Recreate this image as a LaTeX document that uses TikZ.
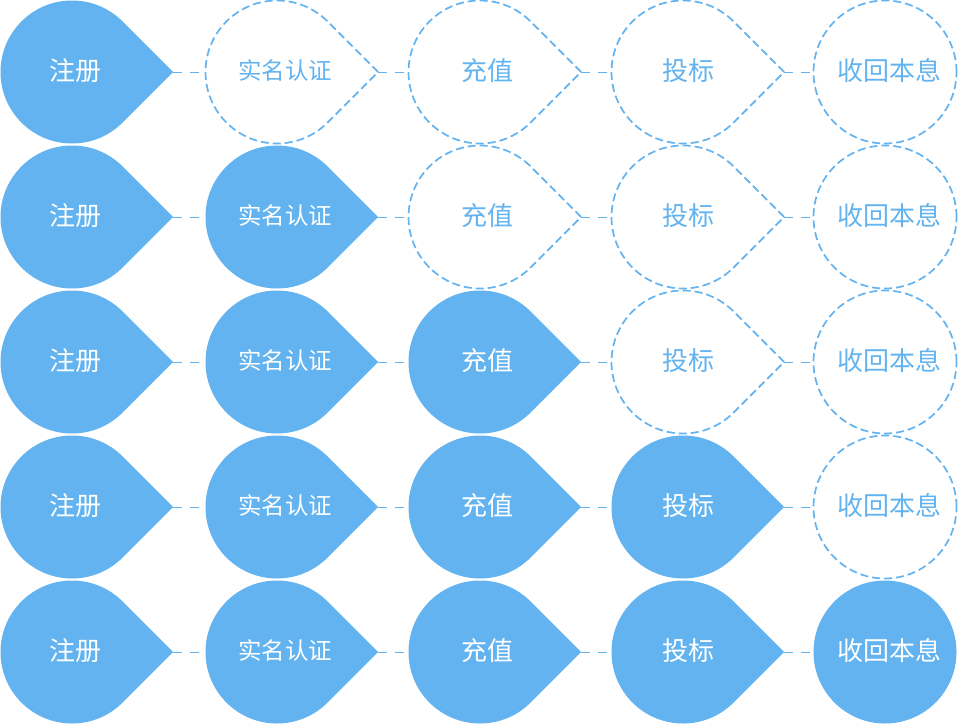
\documentclass[tikz,border=0pt]{standalone}
\usepackage{fontspec}
\setmainfont{Noto Sans CJK SC}
\definecolor{stepblue}{HTML}{62B3EF}
\tikzset{
  filledstep/.style={fill=stepblue,draw=none},
  dashedstep/.style={draw=stepblue,line width=1.7pt,dash pattern=on 8pt off 4pt},
  link/.style={draw=stepblue,line width=0.9pt,dash pattern=on 9pt off 8pt},
  stepnode/.style={circle,minimum size=143pt,inner sep=0pt},
}
\begin{document}
\begin{tikzpicture}[x=1pt,y=1pt]
\useasboundingbox (0,0) rectangle (958,-724);

\foreach \r/\ry in {1/72,2/217,3/362,4/507,5/652}
{
    \foreach \c/\cx/\dx/\fs/\txt in {1/72/3.5/26/注册,2/277/8/23.5/实名认证,3/480/7/26/充值,4/683/5/26/投标,5/885/4/26/收回本息}
    {
        \ifnum\c>\r \def\look{dashedstep}\def\ink{stepblue}\else \def\look{filledstep}\def\ink{white}\fi
        \ifnum\c<5
            \path[\look] ({\cx+101.1},-\ry) -- ({\cx+50.56},{-\ry+50.56})
                arc[start angle=45,end angle=315,radius=71.5pt] -- cycle;
            \coordinate (tip-\r-\c) at ({\cx+101.1},-\ry);
        \else
            \path[\look] (\cx,-\ry) circle[radius=71.5pt];
        \fi
        \node[stepnode] (step-\r-\c) at (\cx,-\ry) {};
        \node[text=\ink,font=\fontsize{\fs}{\fs}\selectfont] (txt-\r-\c) at ({\cx+\dx},{-\ry+1.5}) {\txt};
    }
}

% dashed links between the steps
\foreach \r in {1,...,5}
{
    \foreach \c [evaluate=\c as \n using int(\c+1)] in {1,...,4}
    {
        \draw[link] (tip-\r-\c) -- (step-\r-\n.west);
    }
}
\end{tikzpicture}
\end{document}
